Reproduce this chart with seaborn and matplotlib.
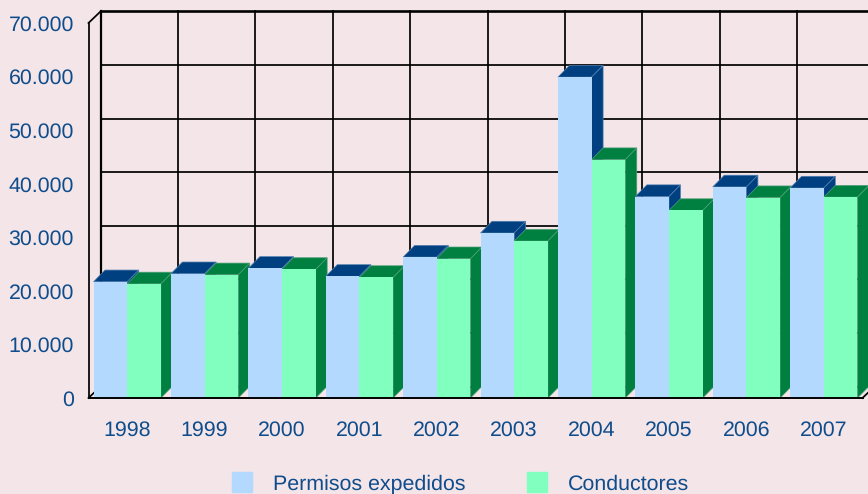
import pandas as pd
import matplotlib.pyplot as plt
from matplotlib.patches import Polygon
import seaborn as sns

years = ['1998', '1999', '2000', '2001', '2002', '2003', '2004', '2005', '2006', '2007']
permisos = [21700, 23200, 24200, 22700, 26300, 30800, 59900, 37600, 39400, 39200]
conductores = [21300, 23000, 24000, 22500, 26000, 29300, 44500, 35000, 37400, 37500]
y_ticks = [0, 10000, 20000, 30000, 40000, 50000, 60000, 70000]
y_labels = ['0', '10.000', '20.000', '30.000', '40.000', '50.000', '60.000', '70.000']
series_names = ['Permisos expedidos', 'Conductores']

bg = '#F3E5E8'
text_color = '#0F4C8C'
front_colors = ['#B3D9FF', '#80FFBF']
dark_colors = ['#004080', '#008040']
edge_colors = ['#4F7FB0', '#4F9F78']

W, H = 868, 494
plt.rcParams['font.family'] = ['Liberation Sans', 'DejaVu Sans']
plt.rcParams['text.hinting'] = 'no_hinting'

df = pd.DataFrame({
    'Year': years * 2,
    'Value': permisos + conductores,
    'Series': [series_names[0]] * len(years) + [series_names[1]] * len(years),
})

fig = plt.figure(figsize=(W / 100, H / 100), dpi=100, facecolor=bg)
# front plane of the fake 3D box, in pixels
left, right, top, bottom = 88.5, 862.5, 23, 398
ax = fig.add_axes([left / W, 1 - bottom / H, (right - left) / W, (bottom - top) / H])
ax.set_facecolor('none')

sns.barplot(data=df, x='Year', y='Value', hue='Series', palette=front_colors,
            width=0.87, saturation=1, legend=False, ax=ax, zorder=5)
ax.set_xlim(-0.5, len(years) - 0.5)
ax.set_ylim(0, 70000)

px_x = (len(years)) / (right - left)
px_y = 70000 / (bottom - top)

# back wall grid, shifted up and right from the front plane
wall_dx = 12 * px_x
wall_dy = 11.5 * px_y
grid = dict(color='black', clip_on=False, solid_capstyle='projecting', zorder=1)
x0, x1 = -0.5 + wall_dx, len(years) - 0.5 + wall_dx
for t in y_ticks:
    ax.plot([x0, x1], [t + wall_dy, t + wall_dy], lw=1.9 if t == 70000 else 1.25, **grid)
for i in range(len(years) + 1):
    x = i - 0.5 + wall_dx
    ax.plot([x, x], [wall_dy, 70000 + wall_dy], lw=1.6 if i == 0 else 1.25, **grid)

# left wall and floor
ax.plot([-0.5, -0.5], [0, 70000], lw=1.25, **grid)
ax.plot([-0.5, x0], [70000, 70000 + wall_dy], lw=1.25, **grid)
ax.plot([-0.5, x0], [0, wall_dy], lw=1.25, **grid)
ax.plot([len(years) - 0.5, x1], [0, wall_dy], lw=1.25, **grid)
line_front = dict(grid, zorder=7)
ax.plot([-0.5, len(years) - 0.5], [0, 0], lw=1.4, **line_front)

# top and side faces of every bar, worked out from the bars seaborn drew
bar_dx = 11.5 * px_x
bar_dy = 11.7 * px_y
for s, container in enumerate(ax.containers):
    for i, bar in enumerate(container):
        x_a, x_b = bar.get_x(), bar.get_x() + bar.get_width()
        h = bar.get_height()
        order = 2 + i * 0.1 + s * 0.05
        style = dict(facecolor=dark_colors[s], edgecolor=edge_colors[s], lw=0.5,
                     clip_on=False, zorder=order)
        ax.add_patch(Polygon([(x_a, h), (x_b, h), (x_b + bar_dx, h + bar_dy),
                              (x_a + bar_dx, h + bar_dy)], **style))
        ax.add_patch(Polygon([(x_b, 0), (x_b, h), (x_b + bar_dx, h + bar_dy),
                              (x_b + bar_dx, bar_dy)], **style))
        bar.set_clip_on(False)

ax.set_yticks(y_ticks)
ax.set_yticklabels(y_labels)
ax.set_xlabel('')
ax.set_ylabel('')
ax.tick_params(axis='both', length=0, labelsize=15.4, labelcolor=text_color)
ax.tick_params(axis='y', pad=10.5)
ax.tick_params(axis='x', pad=16)
sns.despine(ax=ax, left=True, bottom=True)

handles = [plt.Rectangle((0, 0), 1, 1, color=c) for c in front_colors]
fig.legend(handles, series_names, loc='center', bbox_to_anchor=(460.5 / W, 1 - 483 / H),
           ncol=2, frameon=False, fontsize=15.4, labelcolor=text_color, borderpad=0,
           handlelength=0.94, handleheight=1.05, handletextpad=0.97, columnspacing=2.85)

fig.savefig('out.png', dpi=100, facecolor=bg)
